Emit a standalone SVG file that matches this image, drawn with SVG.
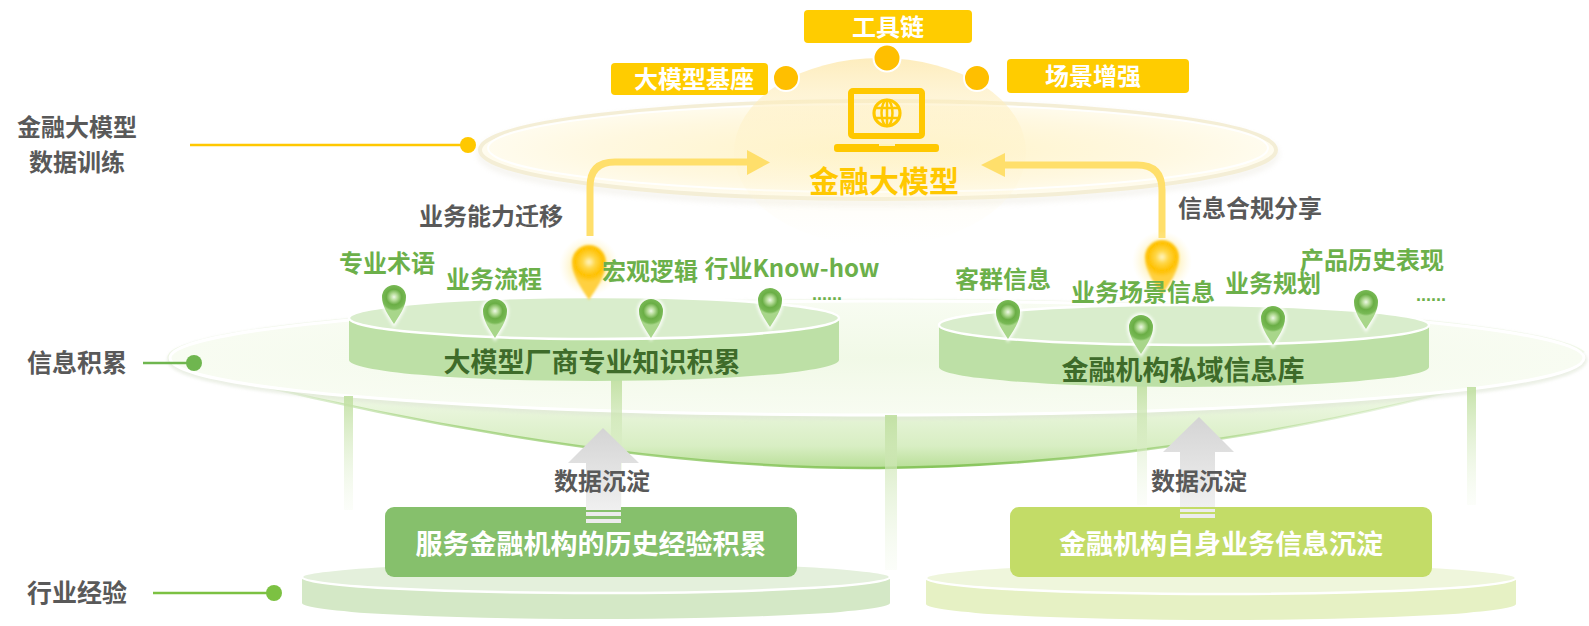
<svg xmlns="http://www.w3.org/2000/svg" width="1589" height="626" viewBox="0 0 1589 626">
<defs>
<style>
.t{font-family:"Noto Sans CJK SC","Noto Sans",sans-serif;font-weight:700;text-anchor:middle}
.side{fill:#595959;font-size:25px}
.gray{fill:#595959;font-size:24px}
.green{fill:#6CB04A;font-size:24px}
.dark{fill:#3E6B2A;font-size:27px}
.wbox{fill:#fff;font-size:24px}
.wbig{fill:#fff;font-size:27px}
.dots{font-family:"Liberation Sans",sans-serif;font-weight:700;font-size:18px;fill:#6CB04A}
.ylink{fill:none;stroke:#FFDF6B;stroke-width:7}
.yhead{fill:#FFDF6B}
.bar{fill:url(#barGrad)}
.ybox{fill:#FFCC00}
.ydot{fill:#FFBF00;stroke:#fff;stroke-width:2}
</style>
<filter id="soft" x="-50%" y="-50%" width="200%" height="200%"><feGaussianBlur stdDeviation="1.5"/></filter>
<filter id="soft1" x="-50%" y="-50%" width="200%" height="200%"><feGaussianBlur stdDeviation="0.8"/></filter>
<filter id="haze" x="-10%" y="-50%" width="120%" height="200%"><feGaussianBlur stdDeviation="3"/></filter>
<linearGradient id="bowl" x1="0" y1="300" x2="0" y2="472" gradientUnits="userSpaceOnUse">
<stop offset="0" stop-color="#f7fcf1"/>
<stop offset="0.55" stop-color="#eff8e5"/>
<stop offset="0.85" stop-color="#d8eec3"/>
<stop offset="1" stop-color="#b3dc90"/>
</linearGradient>
<linearGradient id="bowlEdge" x1="170" y1="0" x2="1585" y2="0" gradientUnits="userSpaceOnUse">
<stop offset="0" stop-color="#8cc760" stop-opacity="0"/>
<stop offset="0.2" stop-color="#8cc760" stop-opacity="0.6"/>
<stop offset="0.55" stop-color="#86c45a"/>
<stop offset="0.8" stop-color="#8cc760" stop-opacity="0.3"/>
<stop offset="1" stop-color="#8cc760" stop-opacity="0"/>
</linearGradient>
<radialGradient id="disc" cx="0.5" cy="0.5" r="0.5">
<stop offset="0" stop-color="#f1f9e7"/>
<stop offset="1" stop-color="#f8fcf2"/>
</radialGradient>
<radialGradient id="ydisc" cx="0.5" cy="0.5" r="0.5">
<stop offset="0" stop-color="#fff3c6"/>
<stop offset="0.7" stop-color="#fff8e0"/>
<stop offset="1" stop-color="#fffcef"/>
</radialGradient>
<linearGradient id="dome" x1="0" y1="0" x2="0" y2="1">
<stop offset="0" stop-color="#fde7a8" stop-opacity="0.75"/>
<stop offset="0.4" stop-color="#fff2c8" stop-opacity="0.4"/>
<stop offset="1" stop-color="#fff8e0" stop-opacity="0"/>
</linearGradient>
<linearGradient id="barGrad" x1="0" y1="0" x2="0" y2="1">
<stop offset="0" stop-color="#bfdf9f" stop-opacity="0.9"/>
<stop offset="1" stop-color="#eef7e4" stop-opacity="0.2"/>
</linearGradient>
<linearGradient id="grayArrow" x1="0" y1="0" x2="0" y2="1">
<stop offset="0" stop-color="#d4d4d4"/>
<stop offset="1" stop-color="#f0f0f0"/>
</linearGradient>
<radialGradient id="pinG" cx="0" cy="0" r="14" gradientUnits="userSpaceOnUse">
<stop offset="0" stop-color="#eef8e6"/>
<stop offset="0.25" stop-color="#b5dc98"/>
<stop offset="0.55" stop-color="#6aae45"/>
<stop offset="0.85" stop-color="#78b955"/>
<stop offset="1" stop-color="#a8d68a"/>
</radialGradient>
<radialGradient id="pinY" cx="0" cy="0" r="20" gradientUnits="userSpaceOnUse">
<stop offset="0" stop-color="#fff6c8"/>
<stop offset="0.3" stop-color="#ffd84a"/>
<stop offset="0.7" stop-color="#ffc000"/>
<stop offset="1" stop-color="#ffd040"/>
</radialGradient>
<radialGradient id="yGlow" cx="0.5" cy="0.5" r="0.5">
<stop offset="0" stop-color="#ffe070" stop-opacity="0.9"/>
<stop offset="0.55" stop-color="#ffe680" stop-opacity="0.5"/>
<stop offset="1" stop-color="#fff3c0" stop-opacity="0"/>
</radialGradient>
<g id="pin-green">
<path d="M0,27 C-5,19 -12,10 -12,0 A12,12 0 0 1 12,0 C12,10 5,19 0,27Z" fill="#fff" stroke="#fff" stroke-width="4" opacity="0.85" filter="url(#soft)"/>
<path d="M0,27 C-5,19 -12,10 -12,0 A12,12 0 0 1 12,0 C12,10 5,19 0,27Z" fill="url(#pinG)"/>
</g>
<g id="pin-yellow">
<circle cx="0" cy="4" r="30" fill="url(#yGlow)"/>
<path d="M0,38 C-7,27 -17,14 -17,0 A17,17 0 0 1 17,0 C17,14 7,27 0,38Z" fill="url(#pinY)" filter="url(#soft1)"/>
</g>
</defs>

<rect width="1589" height="626" fill="#fff"/>

<!-- info layer: large green disc -->
<g id="layer-info">
<path d="M170,362 C350,412 640,470 880,468 C1120,466 1380,420 1585,352 A707,58 0 0 0 170,362Z" fill="url(#bowl)"/>
<path d="M170,362 C350,412 640,470 880,468 C1120,466 1380,420 1585,352" fill="none" stroke="url(#bowlEdge)" stroke-width="2.5"/>
<ellipse cx="877" cy="360" rx="707" ry="57" fill="none" stroke="#dfe6d6" stroke-width="6" opacity="0.6" filter="url(#soft)"/>
<ellipse cx="877" cy="358" rx="707" ry="57" fill="url(#disc)" stroke="#fff" stroke-width="3"/>
</g>

<!-- vertical light bars -->
<g id="bars">
<rect class="bar" x="344" y="396" width="9" height="114"/>
<rect class="bar" x="611" y="380" width="11" height="125"/>
<rect class="bar" x="885" y="415" width="12" height="155"/>
<rect class="bar" x="1137" y="383" width="10" height="122"/>
<rect class="bar" x="1467" y="387" width="9" height="118"/>
</g>

<!-- model layer: yellow disc -->
<g id="layer-model">
<ellipse cx="878" cy="154" rx="398" ry="49" fill="none" stroke="#d8d2bf" stroke-width="4" opacity="0.4" filter="url(#haze)"/>
<ellipse cx="878" cy="150" rx="398" ry="49" fill="url(#ydisc)" stroke="#f4eed6" stroke-width="4"/>
<ellipse cx="878" cy="148" rx="390" ry="44" fill="none" stroke="#fff" stroke-width="2" opacity="0.9"/>
<ellipse cx="880" cy="152" rx="146" ry="94" fill="url(#dome)"/>
</g>

<!-- laptop icon -->
<g id="node-llm">
<rect x="851" y="91" width="71" height="45" rx="2" fill="none" stroke="#FFC800" stroke-width="6"/>
<rect x="834" y="144" width="105" height="8" rx="3" fill="#FFC800"/>
<rect x="879" y="144" width="16" height="2" fill="#fff3b8"/>
<g fill="none" stroke="#FFC800">
<circle cx="887" cy="113" r="13" stroke-width="3.2"/>
<ellipse cx="887" cy="113" rx="5.5" ry="13" stroke-width="2.5"/>
<line x1="887" y1="100" x2="887" y2="126" stroke-width="2.5"/>
<line x1="876" y1="108" x2="898" y2="108" stroke-width="2.5"/>
<line x1="876" y1="118" x2="898" y2="118" stroke-width="2.5"/>
</g>
<text class="t" x="884" y="192" style="fill:#FFC800;font-size:30px">金融大模型</text>
</g>

<!-- capability tags around the model -->
<g id="node-base">
<rect class="ybox" x="611" y="63" width="157" height="32" rx="4"/>
<text class="t wbox" x="694" y="88">大模型基座</text>
<circle class="ydot" cx="786" cy="78" r="13"/>
</g>
<g id="node-toolchain">
<rect class="ybox" x="804" y="10" width="168" height="33" rx="4"/>
<text class="t wbox" x="888" y="36">工具链</text>
<circle class="ydot" cx="887" cy="58" r="13.5"/>
</g>
<g id="node-scene">
<rect class="ybox" x="1007" y="59" width="182" height="34" rx="4"/>
<text class="t wbox" x="1093" y="85">场景增强</text>
<circle class="ydot" cx="977" cy="78" r="13"/>
</g>

<!-- vendor knowledge platform -->
<g id="node-vendor">
<path d="M349,318 L349,360 A245,21 0 0 0 839,360 L839,318Z" fill="#bde0a6"/>
<ellipse cx="594" cy="318" rx="245" ry="21" fill="#d9edcc" stroke="#fff" stroke-width="2.5"/>
<text class="t dark" x="592" y="372">大模型厂商专业知识积累</text>
</g>

<!-- private information platform -->
<g id="node-private">
<path d="M939,325 L939,367 A245,20 0 0 0 1429,367 L1429,325Z" fill="#bde0a6"/>
<ellipse cx="1184" cy="325" rx="245" ry="20" fill="#d9edcc" stroke="#fff" stroke-width="2.5"/>
<text class="t dark" x="1183" y="380">金融机构私域信息库</text>
</g>

<!-- experience bases -->
<g id="node-history">
<path d="M302,577 L302,603 A294,16 0 0 0 890,603 L890,577Z" fill="#d4e8c6"/>
<ellipse cx="596" cy="577" rx="294" ry="16" fill="#e4f0dc" stroke="#fff" stroke-width="2.5"/>
<rect x="385" y="507" width="412" height="70" rx="9" fill="#86c06c"/>
<text class="t wbig" x="591" y="554">服务金融机构的历史经验积累</text>
</g>
<g id="node-own">
<path d="M926,578 L926,604 A295,16 0 0 0 1516,604 L1516,578Z" fill="#e6f1c4"/>
<ellipse cx="1221" cy="578" rx="295" ry="16" fill="#eff6dc" stroke="#fff" stroke-width="2.5"/>
<rect x="1010" y="507" width="422" height="70" rx="9" fill="#c3dc67"/>
<text class="t wbig" x="1221" y="554">金融机构自身业务信息沉淀</text>
</g>

<!-- connectors -->
<g id="connectors">
<path class="ylink" d="M590,236 L590,187 Q590,162 615,162 L749,162"/>
<polygon class="yhead" points="747,150 770,162.5 747,175"/>
<path class="ylink" d="M1162,238 L1162,190 Q1162,165 1137,165 L1003,165"/>
<polygon class="yhead" points="1005,153 981,165 1005,177"/>
<path d="M603,428 L639,463 L621,463 L621,510 L586,510 L586,463 L568,463Z" fill="url(#grayArrow)"/>
<rect x="586" y="512" width="35" height="4" fill="#ececec"/>
<rect x="586" y="519" width="35" height="4" fill="#ececec"/>
<path d="M1199,417 L1234,452 L1215,452 L1215,507 L1180,507 L1180,452 L1163,452Z" fill="url(#grayArrow)"/>
<rect x="1180" y="509" width="35" height="3" fill="#ececec"/>
<rect x="1180" y="514" width="35" height="4" fill="#ececec"/>
<line x1="190" y1="145" x2="468" y2="145" stroke="#FFC800" stroke-width="2.7"/>
<circle cx="468" cy="145" r="8" fill="#FFC800"/>
<line x1="143" y1="363" x2="194" y2="363" stroke="#6fb64f" stroke-width="2.7"/>
<circle cx="194" cy="363" r="8" fill="#6fb64f"/>
<line x1="153" y1="593" x2="274" y2="593" stroke="#7cc142" stroke-width="2.7"/>
<circle cx="274" cy="593" r="8" fill="#7cc142"/>
</g>

<!-- markers on the platforms -->
<g id="markers">
<use href="#pin-yellow" x="589" y="262"/>
<use href="#pin-yellow" x="1162" y="257"/>
<use href="#pin-green" x="394" y="297"/>
<use href="#pin-green" x="495" y="311"/>
<use href="#pin-green" x="651" y="311"/>
<use href="#pin-green" x="770" y="300"/>
<use href="#pin-green" x="1008" y="312"/>
<use href="#pin-green" x="1141" y="327"/>
<use href="#pin-green" x="1273" y="318"/>
<use href="#pin-green" x="1366" y="302"/>
</g>

<!-- labels -->
<g id="labels">
<text class="t side" style="font-size:24px"><tspan x="77" y="136">金融大模型</tspan><tspan x="77" y="171">数据训练</tspan></text>
<text class="t side" x="77" y="372">信息积累</text>
<text class="t side" x="77" y="602">行业经验</text>
<text class="t gray" x="491" y="225">业务能力迁移</text>
<text class="t gray" x="1250" y="217">信息合规分享</text>
<text class="t gray" x="602" y="490">数据沉淀</text>
<text class="t gray" x="1199" y="490">数据沉淀</text>
<text class="t green" x="387" y="272">专业术语</text>
<text class="t green" x="494" y="288">业务流程</text>
<text class="t green" x="650" y="280">宏观逻辑</text>
<text class="t green" x="792" y="277">行业Know-how</text>
<text class="dots" x="812" y="300">......</text>
<text class="t green" x="1003" y="288">客群信息</text>
<text class="t green" x="1143" y="301">业务场景信息</text>
<text class="t green" x="1273" y="292">业务规划</text>
<text class="t green" x="1372" y="269">产品历史表现</text>
<text class="dots" x="1416" y="301">......</text>
</g>
</svg>
